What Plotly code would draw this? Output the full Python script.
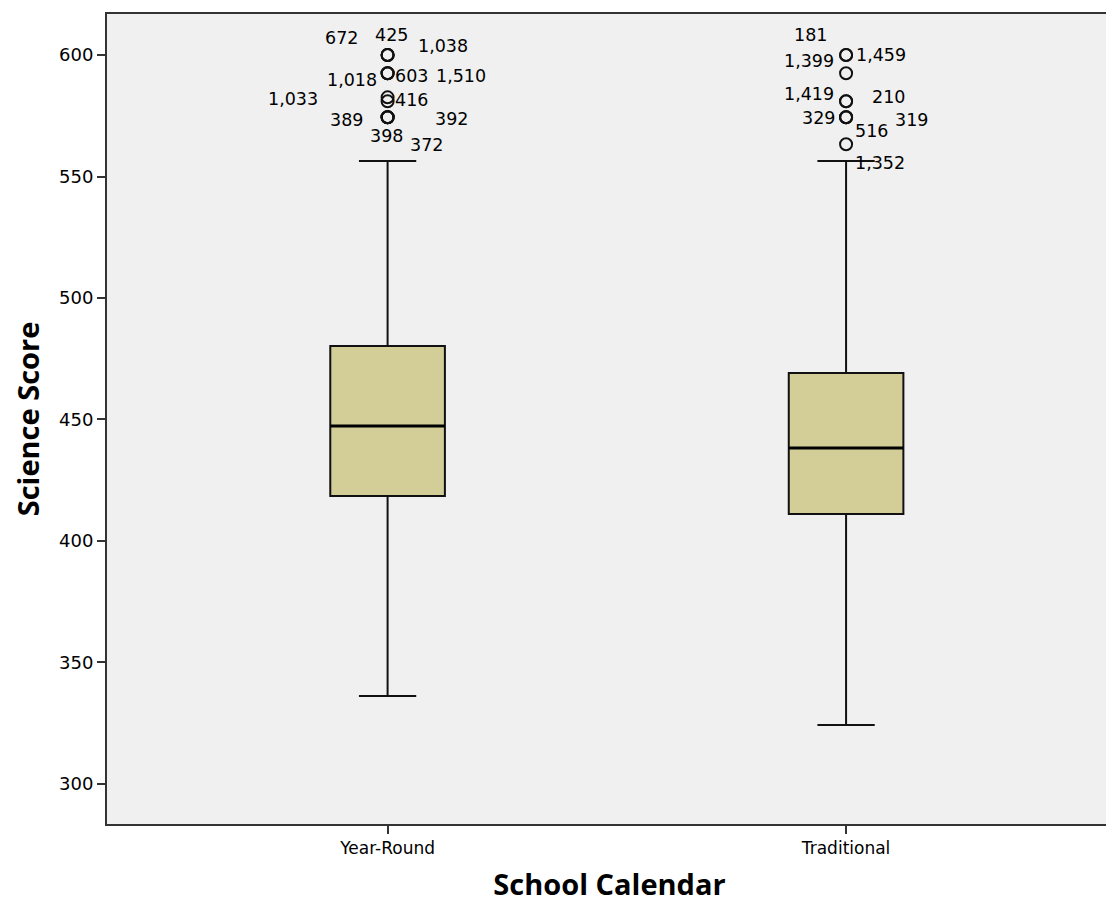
import plotly.graph_objects as go

categories = ["Year-Round", "Traditional"]
q1 = [418.5, 411.1]
median = [447.3, 438.3]
q3 = [480.2, 469.1]
lower_whisker = [336.2, 324.3]
upper_whisker = [556.4, 556.4]

# outliers: value and case label per group
yr_outlier_values = [600, 600, 600, 592.5, 592.5, 592.5, 582.6, 581, 574.4, 574.4, 574.4, 574.4]
yr_outlier_labels = ["672", "425", "1,038", "1,018", "603", "1,510", "1,033", "416", "389", "392", "398", "372"]
tr_outlier_values = [600, 600, 592.5, 581, 581, 574.4, 574.4, 574.4, 563.3]
tr_outlier_labels = ["181", "1,459", "1,399", "1,419", "210", "329", "516", "319", "1,352"]

# label pixel offsets (dx, dy down-positive) relative to the point
yr_offsets = [(-46, -17), (4, -20), (55, -9), (-36, 7), (24, 3), (73, 3), (-95, 2), (24, -1),
              (-41, 3), (64, 2), (-1, 19), (39, 28)]
tr_offsets = [(-36, -20), (35, 0), (-37, -12), (-37, -7), (42, -4), (-28, 1), (25, 14), (65, 3), (34, 19)]

BOX_W = 0.25
FILL = "#d3ce97"
FONT = "DejaVu Sans"
TITLE_FONT = "Open Sans"

fig = go.Figure()
for i, cat in enumerate(categories):
    fig.add_trace(go.Box(
        x=[i], q1=[q1[i]], median=[median[i]], q3=[q3[i]],
        lowerfence=[lower_whisker[i]], upperfence=[upper_whisker[i]],
        width=BOX_W, whiskerwidth=0.5, fillcolor=FILL,
        line=dict(color="#111", width=2), boxpoints=False,
        showlegend=False, name=cat,
    ))
    fig.add_trace(go.Scatter(
        x=[i - BOX_W / 2, i + BOX_W / 2], y=[median[i], median[i]],
        mode="lines", line=dict(color="black", width=3),
        showlegend=False, hoverinfo="skip",
    ))

groups = [(yr_outlier_values, yr_outlier_labels, yr_offsets),
          (tr_outlier_values, tr_outlier_labels, tr_offsets)]
annotations = []
for i, (vals, labs, offs) in enumerate(groups):
    fig.add_trace(go.Scatter(
        x=[i] * len(vals), y=vals, mode="markers",
        marker=dict(symbol="circle-open", size=12, color="#111", line=dict(width=2)),
        showlegend=False,
    ))
    for v, lab, (dx, dy) in zip(vals, labs, offs):
        annotations.append(dict(
            x=i, y=v, xref="x", yref="y", text=lab, showarrow=False,
            xshift=dx, yshift=-dy, font=dict(family=FONT, size=17.5, color="black"),
        ))

fig.update_layout(
    width=1106, height=895,
    margin=dict(l=99, r=0, t=6, b=79),
    paper_bgcolor="white", plot_bgcolor="#f0f0f0",
    annotations=annotations,
    xaxis=dict(
        range=[-0.612, 1.58], tickvals=[0, 1], ticktext=categories,
        ticks="outside", ticklen=8, tickcolor="#333", tickwidth=1.5,
        showline=True, mirror=True, linecolor="#333", linewidth=2,
        showgrid=False, zeroline=False,
        tickfont=dict(family=FONT, size=17, color="black"),
        title=dict(text="<b>School Calendar</b>", standoff=22,
                   font=dict(family=TITLE_FONT, size=29, color="black")),
    ),
    yaxis=dict(
        range=[283.5, 616.9], tickvals=[300, 350, 400, 450, 500, 550, 600],
        ticks="outside", ticklen=8, tickcolor="#333", tickwidth=1.5,
        showline=True, mirror=True, linecolor="#333", linewidth=2,
        showgrid=False, zeroline=False,
        tickfont=dict(family=FONT, size=18, color="black"),
        title=dict(text="<b>Science Score</b>", standoff=12,
                   font=dict(family=TITLE_FONT, size=29, color="black")),
    ),
)

fig.write_html("out.html")
